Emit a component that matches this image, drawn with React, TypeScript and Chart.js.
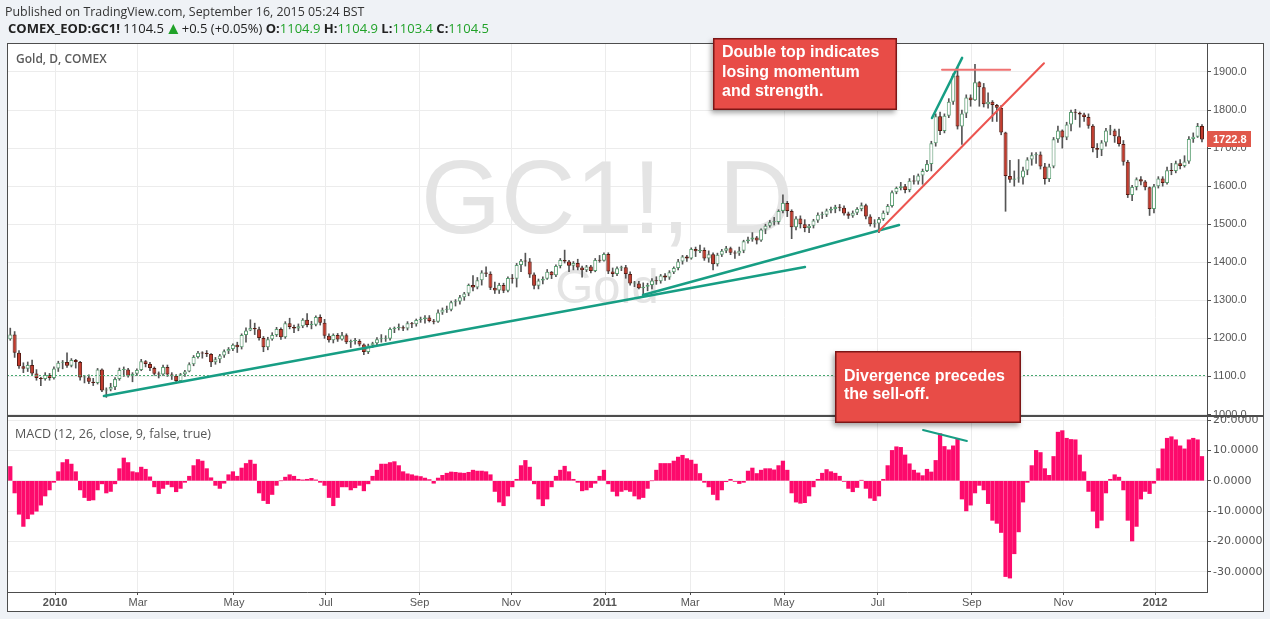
import React, { useEffect, useRef } from 'react';
import { Chart, registerables } from 'chart.js';

Chart.register(...registerables);

const W = 1270;
const H = 619;

// x axis unit = trading session index counted from 2 Dec 2009; each candle spans 2 sessions
const monthTickIdx = [21, 59, 103, 145, 188, 230, 273, 312, 355, 398, 441, 483, 525];
const monthTickLabels = ['2010', 'Mar', 'May', 'Jul', 'Sep', 'Nov', '2011', 'Mar', 'May', 'Jul', 'Sep', 'Nov', '2012'];
const priceTicks = [1000, 1100, 1200, 1300, 1400, 1500, 1600, 1700, 1800, 1900];
const macdTicks = [20, 10, 0, -10, -20, -30];

const firstOpen = 1198;
const closes = [
  1210, 1162, 1127, 1120, 1130, 1108, 1096, 1093, 1104, 1096,
  1121, 1136, 1138, 1128, 1143, 1138, 1097, 1097, 1086, 1083,
  1118, 1063, 1066, 1072, 1093, 1117, 1118, 1102, 1107, 1117,
  1140, 1133, 1122, 1107, 1105, 1125, 1105, 1102, 1088, 1106,
  1113, 1132, 1151, 1162, 1160, 1159, 1137, 1145, 1155, 1166,
  1172, 1183, 1177, 1209, 1221, 1227, 1224, 1201, 1177, 1198,
  1209, 1225, 1203, 1240, 1230, 1226, 1232, 1249, 1235, 1236,
  1256, 1241, 1207, 1195, 1209, 1197, 1208, 1190, 1193, 1193,
  1184, 1164, 1181, 1187, 1198, 1199, 1199, 1225, 1227, 1229,
  1226, 1240, 1237, 1248, 1251, 1255, 1246, 1244, 1268, 1275,
  1275, 1295, 1297, 1308, 1318, 1340, 1334, 1353, 1373, 1370,
  1333, 1326, 1340, 1325, 1359, 1357, 1393, 1404, 1402, 1368,
  1338, 1352, 1357, 1375, 1366, 1390, 1406, 1402, 1391, 1398,
  1386, 1379, 1389, 1377, 1406, 1404, 1422, 1376, 1369, 1384,
  1387, 1369, 1344, 1344, 1332, 1336, 1340, 1352, 1350, 1365,
  1360, 1374, 1385, 1402, 1415, 1410, 1435, 1429, 1432, 1410,
  1421, 1395, 1420, 1430, 1437, 1425, 1423, 1430, 1455, 1460,
  1465, 1457, 1486, 1496, 1505, 1506, 1535, 1556, 1535, 1492,
  1515, 1500, 1490, 1496, 1510, 1525, 1525, 1536, 1540, 1545,
  1543, 1528, 1522, 1530, 1540, 1550, 1520, 1500, 1502, 1514,
  1530, 1548, 1584, 1595, 1600, 1590, 1614, 1612, 1628, 1640,
  1658, 1713, 1784, 1745, 1785, 1822, 1891, 1757, 1791, 1833,
  1826, 1873, 1860, 1815, 1822, 1813, 1806, 1741, 1627, 1617,
  1620, 1623, 1641, 1670, 1681, 1683, 1652, 1619, 1652, 1723,
  1746, 1728, 1762, 1795, 1793, 1788, 1782, 1759, 1700, 1696,
  1715, 1746, 1746, 1731, 1711, 1664, 1577, 1598, 1618, 1612,
  1597, 1540, 1600, 1620, 1608, 1642, 1640, 1660, 1653, 1665,
  1724, 1730, 1758, 1722.8,
];
const highs = [
  1227, 1218, 1168, 1136, 1138, 1143, 1118, 1098, 1110, 1108,
  1125, 1140, 1142, 1162, 1147, 1145, 1140, 1103, 1104, 1095,
  1121, 1120, 1070, 1082, 1097, 1122, 1125, 1121, 1110, 1120,
  1145, 1142, 1137, 1125, 1112, 1130, 1130, 1110, 1105, 1108,
  1116, 1136, 1155, 1166, 1165, 1168, 1160, 1150, 1158, 1170,
  1176, 1186, 1190, 1212, 1228, 1249, 1240, 1230, 1205, 1203,
  1215, 1229, 1228, 1244, 1253, 1235, 1238, 1252, 1265, 1245,
  1259, 1262, 1250, 1212, 1212, 1213, 1216, 1212, 1196, 1200,
  1197, 1186, 1185, 1190, 1202, 1210, 1207, 1228, 1230, 1238,
  1233, 1244, 1242, 1251, 1256, 1260, 1260, 1250, 1275, 1280,
  1285, 1298, 1302, 1313, 1321, 1343, 1365, 1360, 1378, 1388,
  1375, 1348, 1345, 1345, 1362, 1368, 1397, 1408, 1424, 1410,
  1372, 1356, 1362, 1381, 1376, 1393, 1410, 1432, 1405, 1402,
  1408, 1390, 1392, 1392, 1410, 1418, 1425, 1425, 1385, 1388,
  1390, 1392, 1375, 1350, 1350, 1346, 1345, 1357, 1362, 1368,
  1370, 1378, 1388, 1408, 1418, 1418, 1438, 1440, 1445, 1438,
  1430, 1425, 1424, 1434, 1442, 1440, 1430, 1440, 1458, 1466,
  1478, 1468, 1488, 1500, 1510, 1518, 1538, 1577, 1560, 1538,
  1520, 1522, 1512, 1500, 1513, 1530, 1532, 1540, 1545, 1550,
  1552, 1548, 1532, 1535, 1544, 1556, 1553, 1525, 1512, 1518,
  1535, 1552, 1588, 1598, 1610, 1605, 1620, 1628, 1632, 1645,
  1668, 1718, 1790, 1795, 1790, 1830, 1895, 1912, 1800, 1840,
  1840, 1920, 1875, 1870, 1845, 1825, 1815, 1812, 1742, 1668,
  1640, 1670, 1650, 1675, 1688, 1688, 1690, 1660, 1658, 1728,
  1758, 1748, 1768, 1800, 1802, 1795, 1792, 1790, 1762, 1712,
  1720, 1752, 1760, 1750, 1750, 1720, 1668, 1602, 1622, 1625,
  1615, 1598, 1605, 1625, 1625, 1650, 1660, 1666, 1670, 1680,
  1730, 1740, 1765, 1762,
];
const lows = [
  1195, 1150, 1121, 1110, 1113, 1104, 1090, 1076, 1090, 1090,
  1093, 1113, 1120, 1124, 1125, 1122, 1090, 1083, 1081, 1076,
  1080, 1060, 1045, 1062, 1065, 1090, 1100, 1098, 1086, 1102,
  1115, 1125, 1115, 1103, 1096, 1102, 1100, 1092, 1082, 1086,
  1100, 1112, 1128, 1148, 1148, 1152, 1126, 1132, 1136, 1150,
  1160, 1168, 1163, 1172, 1190, 1220, 1210, 1195, 1165, 1170,
  1195, 1205, 1197, 1200, 1225, 1215, 1220, 1228, 1230, 1225,
  1233, 1235, 1200, 1190, 1188, 1192, 1195, 1186, 1176, 1185,
  1180, 1157, 1160, 1176, 1183, 1190, 1192, 1195, 1215, 1222,
  1220, 1222, 1228, 1232, 1242, 1240, 1243, 1238, 1242, 1263,
  1268, 1272, 1285, 1290, 1300, 1312, 1325, 1330, 1340, 1362,
  1328, 1318, 1318, 1320, 1322, 1345, 1335, 1375, 1390, 1360,
  1330, 1330, 1343, 1355, 1357, 1362, 1385, 1398, 1375, 1380,
  1380, 1361, 1375, 1372, 1375, 1400, 1403, 1370, 1362, 1365,
  1378, 1358, 1340, 1336, 1330, 1309, 1325, 1330, 1342, 1345,
  1352, 1355, 1370, 1380, 1395, 1402, 1408, 1415, 1425, 1405,
  1400, 1380, 1390, 1415, 1425, 1420, 1410, 1418, 1425, 1450,
  1455, 1448, 1455, 1475, 1492, 1498, 1500, 1530, 1520, 1462,
  1485, 1490, 1480, 1478, 1490, 1505, 1515, 1520, 1530, 1530,
  1535, 1524, 1515, 1518, 1525, 1535, 1514, 1495, 1492, 1478,
  1510, 1525, 1545, 1580, 1590, 1582, 1585, 1605, 1605, 1605,
  1638, 1640, 1705, 1735, 1740, 1780, 1815, 1750, 1710, 1780,
  1810, 1825, 1810, 1808, 1805, 1770, 1770, 1735, 1534, 1610,
  1600, 1610, 1605, 1630, 1655, 1660, 1645, 1605, 1612, 1648,
  1715, 1700, 1722, 1745, 1775, 1755, 1770, 1752, 1690, 1675,
  1680, 1705, 1735, 1715, 1705, 1655, 1570, 1562, 1590, 1603,
  1590, 1523, 1530, 1595, 1600, 1605, 1630, 1635, 1645, 1650,
  1660, 1715, 1728, 1716,
];
const macdHist = [
  4.7, -4, -11, -15, -12.5, -11, -10, -8, -5, -3,
  -0.5, 3, 6, 7, 5.5, 3, -3, -5.5, -6.5, -6.3,
  -3, -1, -4, -3.5, -1, 4, 7.5, 6, 3, 2.7,
  4.5, 3.8, 1.3, -2, -4.2, -2.5, -1.2, -2, -3.6, -2.5,
  -0.5, 1.5, 5, 7, 6.5, 4, 1, -1.5, -2.5, -0.8,
  2, 3, 1.5, 4.2, 5.7, 6.8, 5.5, -4, -6.5, -7.5,
  -4.5, -1.5, 0, 1.2, 2, 1.5, 0.5, 0.3, 0.5, 0.8,
  0.3, -0.5, -1.5, -5.5, -8.2, -5.5, -2, -2, -3, -2.3,
  -1.5, -3.3, -1, 1.5, 3.5, 5.5, 5.5, 6, 6.3, 5,
  3, 2.3, 2, 1.6, 1.4, 0.9, 0.4, -0.8, 0.9, 1.8,
  2.5, 2.9, 2.8, 2.6, 2.5, 2.8, 3.5, 3.2, 3.2, 3,
  2, -3.5, -7, -8.2, -5, -2, 0.5, 5, 6.7, 4.5,
  -1, -6, -8.2, -6, -2, 1.5, 3.5, 4.8, 3, 0.5,
  -0.5, -3.3, -3, -2.2, -0.8, 1.5, 3.5, -1, -3.5, -5,
  -3.5, -3, -3.5, -5, -6, -5.5, -2.5, 0, 3.5, 5.7,
  5.7, 5.7, 6.5, 7.8, 8.4, 7.3, 6.8, 5.5, 2.4, -0.5,
  -2, -4.5, -6.3, -3, -0.3, 0.5, -0.2, -0.9, -0.5, 3.2,
  4.2, 2.4, 3.5, 4, 4, 3.6, 5, 6.5, 3.5, -4,
  -7, -7.4, -7.2, -5, -2, 0.5, 2.5, 3.7, 3, 2.5,
  1.5, -0.2, -2.5, -3.6, -2.2, 0.2, -2.5, -5.7, -6.5, -5,
  0.5, 5, 10, 11.2, 11, 8.5, 5.6, 3.5, 2.6, 1.7,
  3.8, 2.9, 6.7, 15.5, 11.3, 10.2, 11.5, 13.8, -6, -9.9,
  -8, -4, -1.5, -3, -7.5, -13, -14, -17, -31.5, -32,
  -24, -16.8, -7, -0.5, 5, 10, 9.3, 4, 1.8, 8,
  16, 16.5, 14, 13.6, 13.5, 8.5, 3, -3.5, -10, -15.5,
  -13, -4, 0.5, 2, 1.2, -3, -13, -19.8, -15, -6,
  -3.5, -4.2, -0.8, 4, 10.5, 14, 14.5, 13.5, 11.5, 10.5,
  13.5, 14, 13.5, 8,
];

const lastClose = 1722.8;
const refPrice = 1104.5;

// drawn annotations, in data units [session index, price]
const priceTrendLines = [
  { color: '#179e84', width: 2.5, from: [43.4, 1048.6], to: [364.6, 1387.6] },
  { color: '#179e84', width: 2.5, from: [290.4, 1314], to: [407.7, 1498] },
  { color: '#179e84', width: 2.5, from: [422.8, 1779], to: [436.6, 1937] },
  { color: '#f07272', width: 2, from: [427.4, 1906], to: [458.6, 1906] },
  { color: '#ec5550', width: 2, from: [398.5, 1482], to: [474.1, 1923] },
];
const macdTrendLines = [{ color: '#179e84', width: 2, from: [418.7, 16.7], to: [438.8, 13.1] }];

const notes = [
  { x: 713, y: 38, w: 184, h: 72, first: 15, step: 19.5, lines: ['Double top indicates', 'losing momentum', 'and strength.'] },
  { x: 835, y: 351, w: 186, h: 72, first: 26, step: 18, lines: ['Divergence precedes', 'the sell-off.'] },
];

const FONT_UI = '"Open Sans", "Liberation Sans", sans-serif';
const FONT_AX = '"Liberation Sans", Arial, sans-serif';

function drawLine(ctx: any, xs: any, ys: any, l: any) {
  ctx.strokeStyle = l.color;
  ctx.lineWidth = l.width;
  ctx.lineCap = 'round';
  ctx.beginPath();
  ctx.moveTo(xs.getPixelForValue(l.from[0]), ys.getPixelForValue(l.from[1]));
  ctx.lineTo(xs.getPixelForValue(l.to[0]), ys.getPixelForValue(l.to[1]));
  ctx.stroke();
}

const decor = {
  id: 'decor',
  beforeDraw(chart: any) {
    const { ctx, chartArea: ca } = chart;
    const right = chart.width - 6;
    const bottom = chart.height - 7;
    ctx.save();
    ctx.fillStyle = '#eff2f6';
    ctx.fillRect(0, 0, chart.width, chart.height);
    ctx.fillStyle = '#ffffff';
    ctx.fillRect(ca.left, ca.top, right - ca.left, bottom - ca.top);

    ctx.textBaseline = 'middle';
    ctx.textAlign = 'left';
    ctx.fillStyle = '#333333';
    ctx.font = `12.4px ${FONT_UI}`;
    ctx.fillText('Published on TradingView.com, September 16, 2015 05:24 BST', 5, 12);

    let x = 8;
    const y = 29;
    const seg = (t: string, font: string, color: string) => {
      ctx.font = font;
      ctx.fillStyle = color;
      ctx.fillText(t, x, y);
      x += ctx.measureText(t).width;
    };
    const green = '#21a229';
    seg('COMEX_EOD:GC1!', `bold 13px ${FONT_UI}`, '#222222');
    seg(' 1104.5 ', `13px ${FONT_UI}`, '#222222');
    ctx.fillStyle = green;
    ctx.beginPath();
    ctx.moveTo(x + 1, y + 5);
    ctx.lineTo(x + 11, y + 5);
    ctx.lineTo(x + 6, y - 5);
    ctx.closePath();
    ctx.fill();
    x += 11;
    seg(' +0.5 (+0.05%) ', `13px ${FONT_UI}`, '#222222');
    seg('O:', `bold 13px ${FONT_UI}`, '#222222');
    seg('1104.9', `13px ${FONT_UI}`, green);
    seg(' H:', `bold 13px ${FONT_UI}`, '#222222');
    seg('1104.9', `13px ${FONT_UI}`, green);
    seg(' L:', `bold 13px ${FONT_UI}`, '#222222');
    seg('1103.4', `13px ${FONT_UI}`, green);
    seg(' C:', `bold 13px ${FONT_UI}`, '#222222');
    seg('1104.5', `13px ${FONT_UI}`, green);
    ctx.restore();
  },
  beforeDatasetsDraw(chart: any) {
    const { ctx, chartArea: ca } = chart;
    const ys = chart.scales.y;
    const cx = (ca.left + ca.right) / 2;
    ctx.save();
    ctx.fillStyle = '#e4e4e4';
    ctx.textAlign = 'center';
    ctx.textBaseline = 'alphabetic';
    ctx.font = `103px ${FONT_AX}`;
    ctx.fillText('GC1!, D', cx, ys.top + 190);
    ctx.font = `49px ${FONT_AX}`;
    ctx.fillText('Gold', cx, ys.top + 260);
    ctx.restore();
  },
  afterDatasetsDraw(chart: any) {
    const { ctx, chartArea: ca } = chart;
    const xs = chart.scales.x;
    const ys = chart.scales.y;
    const ys2 = chart.scales.y2;
    ctx.save();
    // last-value reference line
    const ry = Math.round(ys.getPixelForValue(refPrice)) + 0.5;
    ctx.strokeStyle = '#46a870';
    ctx.lineWidth = 1;
    ctx.setLineDash([2, 2]);
    ctx.beginPath();
    ctx.moveTo(ca.left, ry);
    ctx.lineTo(ca.right, ry);
    ctx.stroke();
    ctx.setLineDash([]);
    // trend lines
    ctx.save();
    ctx.beginPath();
    ctx.rect(ca.left, ys.top, ca.right - ca.left, ys.bottom - ys.top);
    ctx.clip();
    priceTrendLines.forEach((l) => drawLine(ctx, xs, ys, l));
    ctx.restore();
    ctx.save();
    ctx.beginPath();
    ctx.rect(ca.left, ys2.top, ca.right - ca.left, ys2.bottom - ys2.top);
    ctx.clip();
    macdTrendLines.forEach((l) => drawLine(ctx, xs, ys2, l));
    ctx.restore();
    // pane titles
    ctx.textAlign = 'left';
    ctx.textBaseline = 'middle';
    ctx.fillStyle = '#5a5a5a';
    ctx.font = `600 12px ${FONT_UI}`;
    ctx.fillText('Gold, D, COMEX', ca.left + 9, ys.top + 17);
    ctx.fillStyle = '#555555';
    ctx.font = `12.5px ${FONT_UI}`;
    ctx.fillText('MACD (12, 26, close, 9, false, true)', ca.left + 8, ys2.top + 18);
    ctx.restore();
  },
  afterDraw(chart: any) {
    const { ctx, chartArea: ca } = chart;
    const ys = chart.scales.y;
    const right = chart.width - 6;
    const bottom = chart.height - 7;
    ctx.save();
    // frame and pane separator
    ctx.strokeStyle = '#4d4d4d';
    ctx.lineWidth = 1;
    ctx.strokeRect(ca.left + 0.5, ca.top + 0.5, right - ca.left - 1, bottom - ca.top - 1);
    ctx.fillStyle = '#4d4d4d';
    ctx.fillRect(ca.left, Math.round(ys.bottom) - 1, right - ca.left, 2);
    // last price label
    const py = ys.getPixelForValue(lastClose);
    ctx.fillStyle = '#e0574a';
    ctx.fillRect(ca.right, Math.round(py) - 8, 44, 16);
    ctx.fillStyle = '#ffffff';
    ctx.font = `bold 11px ${FONT_AX}`;
    ctx.textAlign = 'left';
    ctx.textBaseline = 'middle';
    ctx.fillText(lastClose.toFixed(1), ca.right + 6, Math.round(py) + 0.5);
    // annotation boxes
    notes.forEach((n) => {
      ctx.save();
      ctx.shadowColor = 'rgba(0,0,0,0.35)';
      ctx.shadowBlur = 5;
      ctx.shadowOffsetX = -2;
      ctx.shadowOffsetY = 3;
      ctx.fillStyle = '#e84c47';
      ctx.fillRect(n.x, n.y, n.w, n.h);
      ctx.restore();
      ctx.strokeStyle = '#7d1616';
      ctx.lineWidth = 1.5;
      ctx.strokeRect(n.x + 0.75, n.y + 0.75, n.w - 1.5, n.h - 1.5);
      ctx.fillStyle = '#ffffff';
      ctx.font = `bold 16px ${FONT_AX}`;
      ctx.textBaseline = 'middle';
      n.lines.forEach((t, i) => ctx.fillText(t, n.x + 9, n.y + n.first + i * n.step));
    });
    ctx.restore();
  },
};

function buildConfig(): any {
  const xs = closes.map((_, i) => 2 * i + 0.5);
  const opens = closes.map((_, i) => (i === 0 ? firstOpen : closes[i - 1]));
  const up = closes.map((c, i) => c >= opens[i]);

  const gridColor = '#ececec';
  const axisColor = '#4d4d4d';

  return {
    type: 'bar',
    data: {
      datasets: [
        {
          label: 'wick',
          data: xs.map((x, i) => ({ x, y: [lows[i], highs[i]] })),
          xAxisID: 'x',
          yAxisID: 'y',
          grouped: false,
          barThickness: 1,
          maxBarThickness: 1,
          backgroundColor: '#555555',
          borderWidth: 0,
          order: 3,
        },
        {
          label: 'body',
          data: xs.map((x, i) => ({ x, y: [opens[i], closes[i]] })),
          xAxisID: 'x',
          yAxisID: 'y',
          grouped: false,
          barThickness: 4,
          maxBarThickness: 4,
          minBarLength: 1,
          backgroundColor: up.map((u) => (u ? '#ffffff' : '#c43a2c')),
          borderColor: up.map((u) => (u ? '#5b9f73' : '#5a1b13')),
          borderWidth: 1,
          borderSkipped: false,
          inflateAmount: 0,
          order: 2,
        },
        {
          label: 'MACD',
          data: xs.map((x, i) => ({ x, y: macdHist[i] })),
          xAxisID: 'x',
          yAxisID: 'y2',
          grouped: false,
          barThickness: 3.6,
          maxBarThickness: 3.6,
          backgroundColor: '#fd0a6c',
          borderWidth: 0,
          order: 1,
        },
      ],
    },
    options: {
      responsive: false,
      animation: false,
      devicePixelRatio: 1,
      events: [],
      layout: { padding: { left: 7, top: 43, right: 6, bottom: 7 } },
      plugins: { legend: { display: false }, tooltip: { enabled: false }, title: { display: false } },
      scales: {
        x: {
          type: 'linear',
          position: 'bottom',
          min: -1,
          max: 548.8,
          offset: false,
          grid: { color: gridColor, tickColor: axisColor, tickLength: 3, offset: false },
          border: { color: axisColor, width: 1 },
          afterBuildTicks: (s: any) => {
            s.ticks = monthTickIdx.map((v) => ({ value: v }));
          },
          afterFit: (s: any) => {
            s.height = 20;
          },
          ticks: {
            autoSkip: false,
            maxRotation: 0,
            padding: 1,
            color: '#555555',
            font: (c: any) => ({
              family: FONT_AX,
              size: 11,
              weight: /^\d/.test(monthTickLabels[c.index] || '') ? 'bold' : 'normal',
            }),
            callback: (_v: any, i: number) => monthTickLabels[i],
          },
        },
        y: {
          type: 'linear',
          position: 'right',
          stack: 'panes',
          stackWeight: 373,
          min: 996.06,
          max: 1976.2,
          grid: { color: gridColor, tickColor: axisColor, tickLength: 4 },
          border: { color: axisColor, width: 1 },
          afterBuildTicks: (s: any) => {
            s.ticks = priceTicks.map((v) => ({ value: v }));
          },
          afterFit: (s: any) => {
            s.width = 57;
          },
          ticks: {
            padding: 2,
            color: '#555555',
            font: { family: FONT_AX, size: 11 },
            callback: (v: any) => Number(v).toFixed(1),
          },
        },
        y2: {
          type: 'linear',
          position: 'right',
          stack: 'panes',
          stackWeight: 176,
          min: -36.58,
          max: 21.32,
          grid: { color: gridColor, tickColor: axisColor, tickLength: 4 },
          border: { color: axisColor, width: 1 },
          afterBuildTicks: (s: any) => {
            s.ticks = macdTicks.map((v) => ({ value: v }));
          },
          afterFit: (s: any) => {
            s.width = 57;
          },
          ticks: {
            padding: 2,
            color: '#555555',
            font: { family: '"DejaVu Sans", sans-serif', size: 11 },
            callback: (v: any) => Number(v).toFixed(4),
          },
        },
      },
    },
    plugins: [decor],
  };
}

export default function App() {
  const ref = useRef<HTMLCanvasElement | null>(null);
  useEffect(() => {
    document.body.style.margin = '0';
    document.body.style.background = '#eff2f6';
    document.body.style.overflow = 'hidden';
    const canvas = ref.current;
    if (!canvas) return;
    const chart = new Chart(canvas, buildConfig());
    return () => {
      chart.destroy();
    };
  }, []);
  return <canvas ref={ref} width={W} height={H} style={{ display: 'block', width: W, height: H }} />;
}
